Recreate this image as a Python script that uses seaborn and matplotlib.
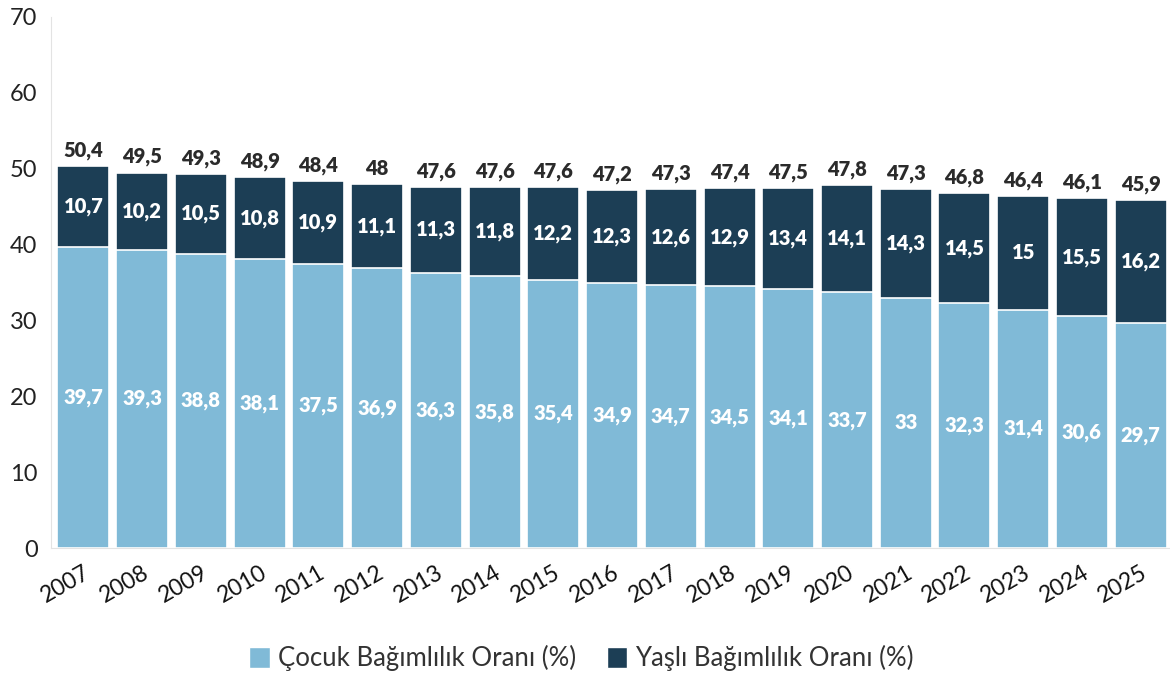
import matplotlib
matplotlib.use("Agg")
import matplotlib.pyplot as plt
import seaborn as sns
import pandas as pd
from matplotlib.patches import Patch

years = [str(y) for y in range(2007, 2026)]
cocuk = [39.7, 39.3, 38.8, 38.1, 37.5, 36.9, 36.3, 35.8, 35.4, 34.9,
         34.7, 34.5, 34.1, 33.7, 33.0, 32.3, 31.4, 30.6, 29.7]
yasli = [10.7, 10.2, 10.5, 10.8, 10.9, 11.1, 11.3, 11.8, 12.2, 12.3,
         12.6, 12.9, 13.4, 14.1, 14.3, 14.5, 15.0, 15.5, 16.2]
toplam = [50.4, 49.5, 49.3, 48.9, 48.4, 48.0, 47.6, 47.6, 47.6, 47.2,
          47.3, 47.4, 47.5, 47.8, 47.3, 46.8, 46.4, 46.1, 45.9]

light = "#80bad7"
dark = "#1c3e55"


def fmt(v):
    return f"{v:g}".replace(".", ",")


sns.set_style("white")
plt.rcParams["font.family"] = ["Lato", "DejaVu Sans"]

df = pd.DataFrame({"yil": years, "cocuk": cocuk, "yasli": yasli, "toplam": toplam})

fig = plt.figure(figsize=(11.7, 6.8), dpi=100)
ax = fig.add_axes([0.044, 0.194, 0.955, 0.781])

# dark bar = full height, light bar drawn over it
sns.barplot(data=df, x="yil", y="toplam", color=dark, width=0.885,
            edgecolor="white", linewidth=1.2, saturation=1, ax=ax)
sns.barplot(data=df, x="yil", y="cocuk", color=light, width=0.885,
            edgecolor="white", linewidth=1.2, saturation=1, ax=ax)

lbl = dict(ha="center", fontsize=14.5, fontweight="heavy")
for i in range(len(years)):
    ax.text(i, cocuk[i] / 2, fmt(cocuk[i]), va="center", color="white", **lbl)
    ax.text(i, toplam[i] - (toplam[i] - cocuk[i]) / 2, fmt(yasli[i]),
            va="center", color="white", **lbl)
    ax.text(i, toplam[i] + 0.8, fmt(toplam[i]), va="bottom", color="#2b2b2b", **lbl)

ax.set_ylim(0, 70)
ax.set_xlim(-0.545, 18.48)
ax.set_yticks(range(0, 71, 10))
ax.set_xlabel("")
ax.set_ylabel("")
sns.despine(ax=ax, top=True, right=True)
ax.spines["left"].set_color("#e3e3e3")
ax.spines["bottom"].set_color("#e3e3e3")
ax.tick_params(axis="y", labelsize=17, colors="#e3e3e3", labelcolor="#222222",
               length=6, width=1, pad=4)
ax.tick_params(axis="x", labelsize=16.5, colors="#e3e3e3", labelcolor="#111111",
               length=8, width=1, pad=2)
plt.setp(ax.get_xticklabels(), rotation=30, ha="right", rotation_mode="anchor")

handles = [Patch(facecolor=light, label="Çocuk Bağımlılık Oranı (%)"),
           Patch(facecolor=dark, label="Yaşlı Bağımlılık Oranı (%)")]
fig.legend(handles=handles, loc="center", bbox_to_anchor=(0.497, 0.032), ncol=2,
           frameon=False, fontsize=18.5, handlelength=0.8, handleheight=0.9,
           handletextpad=0.3, columnspacing=1.2, labelcolor="#333333")

fig.savefig("out.png", dpi=100)
